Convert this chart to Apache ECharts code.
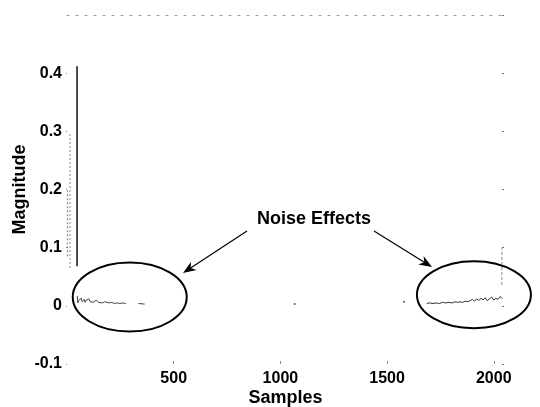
<!DOCTYPE html>
<html>
<head>
<meta charset="utf-8">
<style>
  html, body { margin: 0; padding: 0; background: #fff; }
  #chart { width: 540px; height: 407px; }
</style>
<script src="https://cdn.jsdelivr.net/npm/echarts@6.0.0/dist/echarts.min.js"></script>
</head>
<body>
<div id="chart"></div>
<script>
// ---- data ----
const xTickValues = [500, 1000, 1500, 2000];
const yTickLabels = ['-0.1', '0', '0.1', '0.2', '0.3', '0.4'];

// main peak (solid) near the start of the spectrum
const peakSamples = [47, 47];
const peakValues = [0.068, 0.412];

// faint (scanned, broken) peaks next to it
const faintPeak1Samples = [2, 2];
const faintPeak1Values = [0.085, 0.2];
const faintPeak2Samples = [14, 14];
const faintPeak2Values = [0.065, 0.295];

// faint mirrored peak at the end of the spectrum
const mirrorPeakSamples = [2038, 2038];
const mirrorPeakValues = [0.036, 0.1];

// low-level noise at the start
const leftNoiseSamples = [48, 51, 54, 57, 60, 63, 67, 71, 75, 80,
  85, 90, 96, 102, 108, 115, 122, 130, 138, 147,
  156, 166, 176, 187, 198, 210, 222, 235, 248, 262,
  276, 290, 335, 364];
const leftNoiseValues = [0.017, 0.005, 0.009, 0.012, 0.006, 0.010, 0.013, 0.007, 0.009, 0.011,
  0.006, 0.010, 0.008, 0.012, 0.007, 0.009, 0.006, 0.008, 0.010, 0.006,
  0.007, 0.005, 0.007, 0.006, 0.005, 0.006, 0.004, 0.005, 0.004, 0.005,
  0.004, null, 0.004, 0.003];

// low-level noise at the end
const rightNoiseSamples = [1686, 1700, 1715, 1730, 1745, 1760, 1775, 1790, 1805, 1818,
  1830, 1842, 1854, 1866, 1878, 1890, 1900, 1910, 1920, 1930,
  1940, 1950, 1960, 1970, 1980, 1990, 2000, 2010, 2020, 2030, 2040];
const rightNoiseValues = [0.004, 0.005, 0.004, 0.005, 0.004, 0.006, 0.005, 0.006, 0.005, 0.007,
  0.006, 0.007, 0.006, 0.008, 0.007, 0.009, 0.011, 0.008, 0.012, 0.009,
  0.013, 0.010, 0.014, 0.009, 0.012, 0.015, 0.010, 0.013, 0.011, 0.016, 0.012];

// isolated specks in the middle
const speckSamples = [1067, 1579];
const speckValues = [0.003, 0.007];

const annotationText = 'Noise Effects';
const xName = 'Samples';
const yName = 'Magnitude';

// ---- build ----
function pairs(xs, ys) {
  return xs.map((x, i) => [x, ys[i] === null ? '-' : ys[i]]);
}

const FONT = '"Liberation Sans", Arial, Helvetica, sans-serif';
const chart = echarts.init(document.getElementById('chart'), null, { renderer: 'canvas' });

const option = {
  animation: false,
  backgroundColor: '#fff',
  grid: { left: 67, right: 36, top: 15, bottom: 43, outerBoundsMode: 'none', containLabel: false },
  xAxis: [{
    type: 'value', min: 0, max: 2048, interval: 500,
    name: xName, nameLocation: 'middle', nameGap: 25, nameMoveOverlap: false,
    nameTextStyle: { fontFamily: FONT, fontWeight: 'bold', fontSize: 18, color: '#000' },
    axisLine: { show: false, onZero: false },
    axisTick: { show: true, inside: true, length: 3, lineStyle: { color: '#888', width: 1 } },
    splitLine: { show: false },
    axisLabel: {
      margin: 7, fontFamily: FONT, fontWeight: 'bold', fontSize: 16, color: '#000',
      showMinLabel: false, showMaxLabel: false,
      formatter: v => (xTickValues.indexOf(v) >= 0 ? String(v) : '')
    }
  }, {
    type: 'value', position: 'top', min: 0, max: 2048, interval: 500,
    axisLine: { show: true, onZero: false, lineStyle: { color: '#999', width: 1, type: [2, 7] } },
    axisTick: { show: false }, axisLabel: { show: false }, splitLine: { show: false }
  }],
  yAxis: [{
    type: 'value', min: -0.1, max: 0.5, interval: 0.1,
    name: yName, nameLocation: 'middle', nameGap: 38, nameMoveOverlap: false,
    nameTextStyle: { fontFamily: FONT, fontWeight: 'bold', fontSize: 18, color: '#000' },
    axisLine: { show: false, onZero: false },
    axisTick: { show: true, inside: false, length: 2, lineStyle: { color: '#888', type: 'dotted' } },
    splitLine: { show: false },
    axisLabel: {
      margin: 5, fontFamily: FONT, fontWeight: 'bold', fontSize: 16, color: '#000',
      showMaxLabel: false,
      formatter: v => {
        const s = String(+v.toFixed(1));
        return yTickLabels.indexOf(s) >= 0 ? s : '';
      }
    }
  }, {
    type: 'value', position: 'right', min: -0.1, max: 0.5, interval: 0.1,
    axisLine: { show: false, onZero: false },
    axisTick: { show: true, inside: true, length: 2, lineStyle: { color: '#777' } },
    axisLabel: { show: false }, splitLine: { show: false }
  }],
  series: [
    { type: 'line', data: pairs(peakSamples, peakValues), symbol: 'none',
      lineStyle: { color: '#000', width: 1.4 } },
    { type: 'line', data: pairs(faintPeak1Samples, faintPeak1Values), symbol: 'none',
      lineStyle: { color: '#777', width: 1, type: [2, 2] } },
    { type: 'line', data: pairs(faintPeak2Samples, faintPeak2Values), symbol: 'none',
      lineStyle: { color: '#888', width: 1, type: [2, 2] } },
    { type: 'line', data: pairs(mirrorPeakSamples, mirrorPeakValues), symbol: 'none',
      lineStyle: { color: '#888', width: 1, type: [3, 2] } },
    { type: 'line', data: pairs(leftNoiseSamples, leftNoiseValues), symbol: 'none',
      connectNulls: false, lineStyle: { color: '#444', width: 1 } },
    { type: 'line', data: pairs(rightNoiseSamples, rightNoiseValues), symbol: 'none',
      lineStyle: { color: '#333', width: 1 } },
    { type: 'scatter', data: pairs(speckSamples, speckValues), symbolSize: 2,
      itemStyle: { color: '#222' } }
  ]
};
chart.setOption(option);

// ---- annotations (ellipses, arrows, text) placed from data coordinates ----
function px(sample, value) { return chart.convertToPixel({ xAxisIndex: 0, yAxisIndex: 0 }, [sample, value]); }

function arrow(from, to) {
  const dx = to[0] - from[0], dy = to[1] - from[1];
  const len = Math.hypot(dx, dy), ux = dx / len, uy = dy / len, nx = -uy, ny = ux;
  const L = 13, W = 5;
  const bx = to[0] - ux * L, by = to[1] - uy * L;
  const mx = to[0] - ux * L * 0.7, my = to[1] - uy * L * 0.7;
  return [
    { type: 'line', shape: { x1: from[0], y1: from[1], x2: mx, y2: my },
      style: { stroke: '#000', lineWidth: 1.2 } },
    { type: 'polygon', shape: { points: [to, [bx + nx * W, by + ny * W], [mx, my], [bx - nx * W, by - ny * W]] },
      style: { fill: '#000' } }
  ];
}

const leftC = px(294, 0.015), rightC = px(1907, 0.019);
const elements = [
  { type: 'ellipse', shape: { cx: leftC[0], cy: leftC[1], rx: 57, ry: 34.5 },
    style: { fill: 'none', stroke: '#000', lineWidth: 2 } },
  { type: 'ellipse', shape: { cx: rightC[0], cy: rightC[1], rx: 57, ry: 33.5 },
    style: { fill: 'none', stroke: '#000', lineWidth: 2 } },
  { type: 'text', x: 314, y: 219,
    style: { text: annotationText, font: 'bold 18px ' + FONT, fill: '#000', align: 'center', verticalAlign: 'middle' } }
].concat(arrow([247, 231], [183, 273]), arrow([374, 231], [432, 267]));

chart.setOption({ graphic: { elements: elements } });
</script>
</body>
</html>
